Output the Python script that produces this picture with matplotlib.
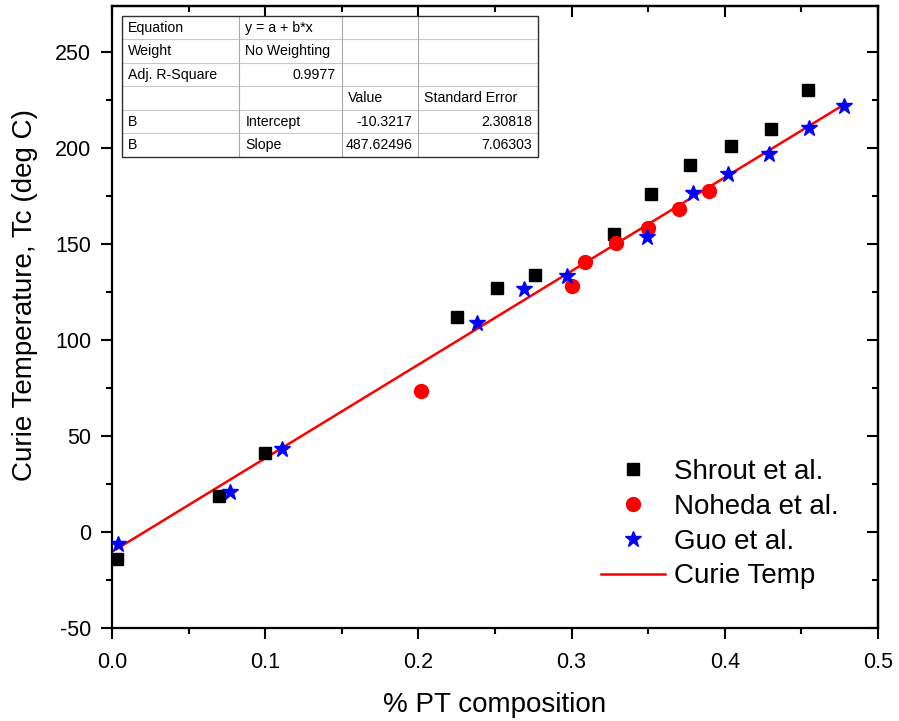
import numpy as np
import matplotlib
matplotlib.use("Agg")
import matplotlib.pyplot as plt
from matplotlib.ticker import MultipleLocator

plt.rcParams['font.family'] = ['Liberation Sans', 'DejaVu Sans']
plt.rcParams['axes.unicode_minus'] = False

# ---------------- data ----------------
shrout_x = [0.003, 0.070, 0.100, 0.225, 0.251, 0.276, 0.328, 0.352, 0.377, 0.404, 0.430, 0.454]
shrout_y = [-14, 19, 41, 112, 127, 134, 155, 176, 191, 201, 210, 230]

noheda_x = [0.202, 0.300, 0.309, 0.329, 0.350, 0.370, 0.390]
noheda_y = [73.5, 128, 140.5, 150.5, 158.5, 168, 177.5]

guo_x = [0.004, 0.077, 0.111, 0.238, 0.269, 0.297, 0.349, 0.379, 0.402, 0.429, 0.455, 0.478]
guo_y = [-6, 21, 43, 109, 126.5, 133.5, 153.5, 176.5, 186.5, 197, 210.5, 222]

fit_intercept = -10.3217
fit_slope = 487.62496

table_rows = [
    ["Equation", "y = a + b*x", "", ""],
    ["Weight", "No Weighting", "", ""],
    ["Adj. R-Square", "0.9977", "", ""],
    ["", "", "Value", "Standard Error"],
    ["B", "Intercept", "-10.3217", "2.30818"],
    ["B", "Slope", "487.62496", "7.06303"],
]

legend_labels = ["Shrout et al.", "Noheda et al.", "Guo et al.", "Curie Temp"]

# ---------------- figure ----------------
fig = plt.figure(figsize=(8.99, 7.21), dpi=100)
ax = fig.add_axes([112/899, 1 - 628/721, 766/899, 622/721])

ax.plot(shrout_x, shrout_y, 's', color='black', markersize=8.5, label=legend_labels[0], zorder=3)
ax.plot(noheda_x, noheda_y, 'o', color='red', markersize=10, label=legend_labels[1], zorder=3)
ax.plot(guo_x, guo_y, '*', color='blue', markersize=12, label=legend_labels[2], zorder=4)

all_x = shrout_x + noheda_x + guo_x
xf = np.linspace(min(all_x), max(all_x), 50)
ax.plot(xf, fit_intercept + fit_slope * xf, '-', color='red', linewidth=1.8, label=legend_labels[3], zorder=2)

ax.set_xlim(0, 0.5)
ax.set_ylim(-50, 274)
ax.xaxis.set_major_locator(MultipleLocator(0.1))
ax.xaxis.set_minor_locator(MultipleLocator(0.05))
ax.yaxis.set_major_locator(MultipleLocator(50))
ax.yaxis.set_minor_locator(MultipleLocator(25))
ax.xaxis.set_major_formatter(matplotlib.ticker.FormatStrFormatter('%.1f'))

for sp in ax.spines.values():
    sp.set_linewidth(1.6)

ax.tick_params(which='major', direction='out', length=8, width=1.5, labelsize=15.5, pad=7)
ax.tick_params(axis='x', which='major', pad=9)
ax.tick_params(which='minor', direction='out', length=4.3, width=1.5)

# top & right inward ticks
top = ax.secondary_xaxis('top')
top.xaxis.set_major_locator(MultipleLocator(0.1))
top.xaxis.set_minor_locator(MultipleLocator(0.05))
top.tick_params(which='major', direction='in', length=8, width=1.5, labeltop=False)
top.tick_params(which='minor', direction='in', length=4.3, width=1.5)
top.spines['top'].set_linewidth(1.6)
right = ax.secondary_yaxis('right')
right.yaxis.set_major_locator(MultipleLocator(50))
right.yaxis.set_minor_locator(MultipleLocator(25))
right.tick_params(which='major', direction='in', length=8, width=1.5, labelright=False)
right.tick_params(which='minor', direction='in', length=4.3, width=1.5)
right.spines['right'].set_linewidth(1.6)

ax.set_xlabel("% PT composition", fontsize=20, labelpad=14)
ax.set_ylabel("Curie Temperature, Tc (deg C)", fontsize=20)
ax.yaxis.set_label_coords(-0.096, 0.535)

leg = ax.legend(loc='upper left', bbox_to_anchor=(0.639, 0.272), frameon=False,
                fontsize=20, handlelength=2.3, handletextpad=0.3, labelspacing=0.32,
                borderpad=0, borderaxespad=0)

# ---------------- table ----------------
col_edges = [0.0127, 0.1662, 0.2999, 0.3999, 0.5558]
y_top, y_bot = 0.9839, 0.7577
nrows = len(table_rows)
rh = (y_top - y_bot) / nrows
tr = ax.transAxes
for i in range(1, nrows):
    yy = y_top - i * rh
    ax.plot([col_edges[0], col_edges[-1]], [yy, yy], color='#c8c8c8', lw=0.8, transform=tr, clip_on=False, zorder=5)
for xx in col_edges[1:-1]:
    ax.plot([xx, xx], [y_bot, y_top], color='#a8a8a8', lw=0.8, transform=tr, clip_on=False, zorder=5)
ax.add_patch(plt.Rectangle((col_edges[0], y_bot), col_edges[-1] - col_edges[0], y_top - y_bot,
                           fill=False, edgecolor='#303030', lw=1.0, transform=tr, zorder=6))

def is_num(s):
    try:
        float(s)
        return True
    except ValueError:
        return False

for r, row in enumerate(table_rows):
    yc = y_top - (r + 0.5) * rh
    for c, txt in enumerate(row):
        if not txt:
            continue
        if is_num(txt):
            ax.text(col_edges[c + 1] - 0.0075, yc, txt, ha='right', va='center', fontsize=10.2,
                    transform=tr, zorder=7)
        else:
            ax.text(col_edges[c] + 0.0078, yc, txt, ha='left', va='center', fontsize=10.2,
                    transform=tr, zorder=7)

fig.savefig("out.png", dpi=100)
